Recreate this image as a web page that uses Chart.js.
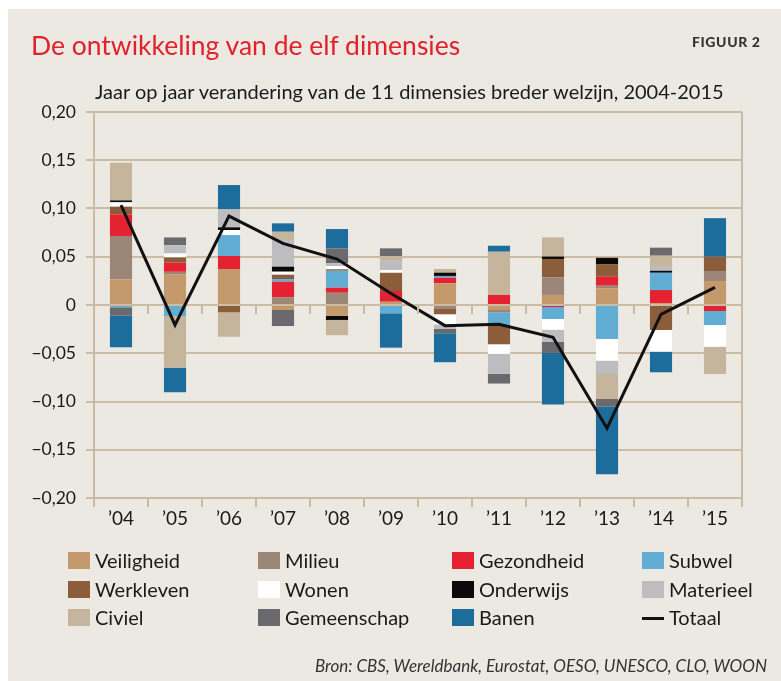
<!DOCTYPE html>
<html><head><meta charset="utf-8">
<script src="https://cdn.jsdelivr.net/npm/chart.js@4.4.0/dist/chart.umd.min.js"></script>
<style>
html,body{margin:0;padding:0;background:#fff;width:781px;height:681px;overflow:hidden;}
#page{position:absolute;left:8px;top:9px;width:773px;height:672px;background:#ece9e2;}
#wrap{position:absolute;left:0;top:0;width:781px;height:681px;}
.t{position:absolute;white-space:nowrap;font-family:Lato,"Open Sans",sans-serif;color:#1a1a1a;}
#title{left:31px;top:29px;font-size:26.5px;color:#e3212d;}
#fig{left:692px;top:33px;font-size:14px;font-weight:900;letter-spacing:0.6px;color:#333;}
#sub{left:95px;top:79px;font-size:20px;}
#src{right:14px;top:655px;font-size:17px;font-style:italic;color:#333;}
.lg{position:absolute;font-family:Lato,"Open Sans",sans-serif;font-size:20px;color:#1a1a1a;white-space:nowrap;height:24px;line-height:24px;}
.lg i{position:absolute;left:0;top:4px;width:22px;height:17px;}
.lg span{position:absolute;left:27px;top:0;}
</style></head>
<body>
<div id="page"></div>
<div id="wrap"><canvas id="c" width="781" height="681"></canvas></div>
<div class="t" id="title">De ontwikkeling van de elf dimensies</div>
<div class="t" id="fig">FIGUUR 2</div>
<div class="t" id="sub">Jaar op jaar verandering van de 11 dimensies breder welzijn, 2004-2015</div>
<div class="t" id="src">Bron: CBS, Wereldbank, Eurostat, OESO, UNESCO, CLO, WOON</div>
<div id="legend"></div>
<script>
const categories = ["\u201904","\u201905","\u201906","\u201907","\u201908","\u201909","\u201910","\u201911","\u201912","\u201913","\u201914","\u201915"];
const yTicks = [-0.2,-0.15,-0.1,-0.05,0,0.05,0.1,0.15,0.2];

const veiligheid  = [0.0266, 0.032, 0.0373, -0.0052, -0.0114, 0.0034, 0.0225, -0.0052, 0.0104, 0.0173, 0.0017, 0.0248];
const milieu      = [0.0448, 0.0024, 0, 0.008, 0.0127, 0, -0.0041, -0.0024, 0.0183, 0.0027, 0, 0.0104];
const gezondheid  = [0.0225, 0.0097, 0.0135, 0.0161, 0.0052, 0.0111, 0.0058, 0.0104, -0.0021, 0.0093, 0.0138, -0.0062];
const subwel      = [-0.0024, -0.0114, 0.0217, 0.0028, 0.0176, -0.0086, 0.0018, -0.0131, -0.0124, -0.0352, 0.0179, -0.0145];
const werkleven   = [0.008, 0.0052, -0.0076, 0.0045, 0.0015, 0.0189, -0.0055, -0.02, 0.019, 0.0131, -0.0259, 0.0148];
const wonen       = [0.0045, 0.0041, 0.0052, 0.0031, 0.0034, 0.0028, -0.0104, -0.01, -0.0111, -0.0225, -0.0224, -0.0225];
const onderwijs   = [0.002, 0, 0.0028, 0.0052, -0.0041, 0, 0.0034, 0, 0.0025, 0.0065, 0.0021, 0];
const materieel   = [0, 0.0086, 0.0186, 0.0276, 0.0028, 0.0104, -0.0048, -0.0207, -0.0127, -0.0138, 0.0049, 0];
const civiel      = [0.039, -0.0535, -0.0253, 0.0086, -0.0158, 0.0041, 0.0038, 0.0448, 0.0198, -0.0259, 0.0107, -0.0283];
const gemeenschap = [-0.0087, 0.008, 0, -0.0166, 0.0155, 0.008, -0.0045, -0.01, -0.0114, -0.008, 0.0083, 0];
const banen       = [-0.0327, -0.0255, 0.0252, 0.0087, 0.02, -0.0356, -0.03, 0.0062, -0.0535, -0.07, -0.0214, 0.04];
const totaal      = [0.1035, -0.0207, 0.0921, 0.0638, 0.0476, 0.012, -0.0214, -0.02, -0.0334, -0.1277, -0.0097, 0.0183];

const seriesNames = ["Veiligheid","Milieu","Gezondheid","Subwel","Werkleven","Wonen","Onderwijs","Materieel","Civiel","Gemeenschap","Banen"];
const seriesData = [veiligheid, milieu, gezondheid, subwel, werkleven, wonen, onderwijs, materieel, civiel, gemeenschap, banen];
const seriesColors = ["#c4996b","#9b8678","#e42231","#62add3","#8b5d3b","#ffffff","#0a0a0a","#bdbdc0","#c5b59c","#6a6a6e","#1c6c9c"];

const tan = "#c9bba3";
const font = "Lato, 'Open Sans', sans-serif";

const datasets = seriesNames.map((n, i) => ({
  type: 'bar', label: n, data: seriesData[i], backgroundColor: seriesColors[i],
  borderWidth: 0, order: 1, barPercentage: 0.41, categoryPercentage: 1
}));
datasets.push({
  type: 'line', label: 'Totaal', data: totaal, borderColor: '#111', borderWidth: 3,
  pointRadius: 0, tension: 0, fill: false, order: 0, stack: 'totaal'
});

const framePlugin = {
  id: 'frame',
  afterDraw(chart) {
    const {ctx, chartArea, scales} = chart;
    const xs = scales.x, ys = scales.y;
    ctx.save();
    ctx.strokeStyle = tan; ctx.lineWidth = 2;
    ctx.beginPath();
    ctx.moveTo(chartArea.right, chartArea.top);
    ctx.lineTo(chartArea.right, chartArea.bottom + 9);
    const y0 = ys.getPixelForValue(0);
    const n = categories.length;
    for (let i = 1; i < n; i++) {
      const x = Math.round(xs.left + i * xs.width / n);
      ctx.moveTo(x, y0); ctx.lineTo(x, y0 + 9);
    }
    ctx.stroke();
    ctx.restore();
  }
};

new Chart(document.getElementById('c'), {
  data: { labels: categories, datasets },
  options: {
    responsive: false, animation: false,
    layout: { padding: { top: 112, right: 39, left: 0, bottom: 0 } },
    plugins: { legend: { display: false }, tooltip: { enabled: false } },
    scales: {
      x: {
        stacked: true, offset: true,
        grid: { offset: true, drawOnChartArea: false, drawTicks: true, tickLength: 9, color: tan, lineWidth: 2 },
        border: { display: true, color: tan, width: 2 },
        ticks: { font: { family: font, size: 19 }, color: '#1a1a1a', padding: 0, maxRotation: 0 },
        afterFit: s => { s.height = 183; }
      },
      y: {
        stacked: true, min: -0.2, max: 0.2, z: 1,
        afterBuildTicks: s => { s.ticks = yTicks.map(v => ({ value: v })); },
        ticks: {
          font: { family: font, size: 17.5 }, color: '#1a1a1a', padding: 10,
          callback: v => { const r = Math.round(v * 100) / 100; if (r === 0) return '0'; return (r < 0 ? '\u2212' : '') + Math.abs(r).toFixed(2).replace('.', ','); }
        },
        grid: { color: 'rgba(178,152,112,0.55)', lineWidth: 2, drawTicks: true, tickLength: 8 },
        border: { display: true, color: tan, width: 2 },
        afterFit: s => { s.width = 94; }
      }
    }
  },
  plugins: [framePlugin]
});

// HTML legend built from the series arrays
const legendItems = seriesNames.map((n, i) => ({ name: n, color: seriesColors[i], line: false }));
legendItems.push({ name: 'Totaal', color: '#111', line: true });
const colX = [68, 258, 452, 642];
const rowY = [548, 577, 605];
const lg = document.getElementById('legend');
legendItems.forEach((it, k) => {
  const d = document.createElement('div');
  d.className = 'lg';
  d.style.left = colX[k % 4] + 'px';
  d.style.top = rowY[Math.floor(k / 4)] + 'px';
  const b = document.createElement('i');
  b.style.background = it.color;
  if (it.line) { b.style.height = '3px'; b.style.top = '12px'; }
  const s = document.createElement('span');
  s.textContent = it.name;
  d.appendChild(b); d.appendChild(s);
  lg.appendChild(d);
});
</script>
</body></html>
